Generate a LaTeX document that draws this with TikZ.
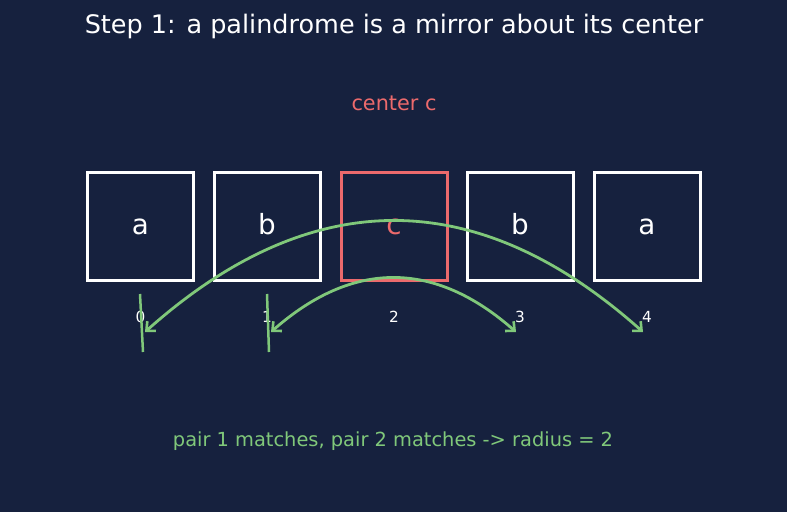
\documentclass[tikz,border=0pt]{standalone}
\usepackage{fontspec}
\setmainfont{DejaVu Sans}
\usetikzlibrary{arrows.meta}
\definecolor{bgnavy}{HTML}{16213E}
\definecolor{accred}{HTML}{EC6A6C}
\definecolor{accgreen}{HTML}{80C87A}
\tikzset{
  cell/.style={draw=white, line width=3pt, minimum width=106pt, minimum height=108pt, inner sep=0pt, text=white, font=\fontsize{27.8}{32}\selectfont, text height=21.1pt, text depth=6.1pt},
  centercell/.style={cell, draw=accred, text=accred},
  idx/.style={text=white, font=\fontsize{15.3}{18}\selectfont, inner sep=0pt},
  arc/.style={draw=accgreen, line width=2.8pt, {Straight Barb[length=7pt,width=13pt,line width=2.6pt]}-{Straight Barb[length=7pt,width=13pt,line width=2.6pt]}},
  tick/.style={draw=accgreen, line width=2.5pt}
}
\begin{document}
\begin{tikzpicture}[x=1pt,y=-1pt]
\fill[bgnavy] (0,0) rectangle (787,512);
\useasboundingbox (0,0) rectangle (787,512);
\node[text=white, font=\fontsize{25.5}{30}\selectfont] (title) at (394,26) {Step 1: a palindrome is a mirror about its center};
\node[text=accred, font=\fontsize{20.8}{25}\selectfont] (clabel) at (394,103.5) {center c};
\node[cell] (c0) at (140.5,226.5) {a};
\node[cell] (c1) at (267,226.5) {b};
\node[centercell] (c2) at (394,226.5) {c};
\node[cell] (c3) at (520,226.5) {b};
\node[cell] (c4) at (647,226.5) {a};
\node[idx] (i0) at (140.5,317) {0};
\node[idx] (i1) at (267,317) {1};
\node[idx] (i2) at (394,317) {2};
\node[idx] (i3) at (520,317) {3};
\node[idx] (i4) at (647,317) {4};
\coordinate (oL) at (145,332);
\coordinate (oR) at (643,332);
\coordinate (nL) at (271,332);
\coordinate (nR) at (516,332);
\draw[arc] (oL) .. controls (311,184) and (477,184) .. (oR);
\draw[arc] (nL) .. controls (352.7,260) and (434.3,260) .. (nR);
\coordinate (t0a) at (140,294);
\coordinate (t0b) at (143,352);
\coordinate (t1a) at (267,294);
\coordinate (t1b) at (269,352);
\draw[tick] (t0a) -- (t0b);
\draw[tick] (t1a) -- (t1b);
\node[text=accgreen, font=\fontsize{19.4}{23}\selectfont] (summary) at (393,441) {pair 1 matches, pair 2 matches -> radius = 2};
\end{tikzpicture}
\end{document}
